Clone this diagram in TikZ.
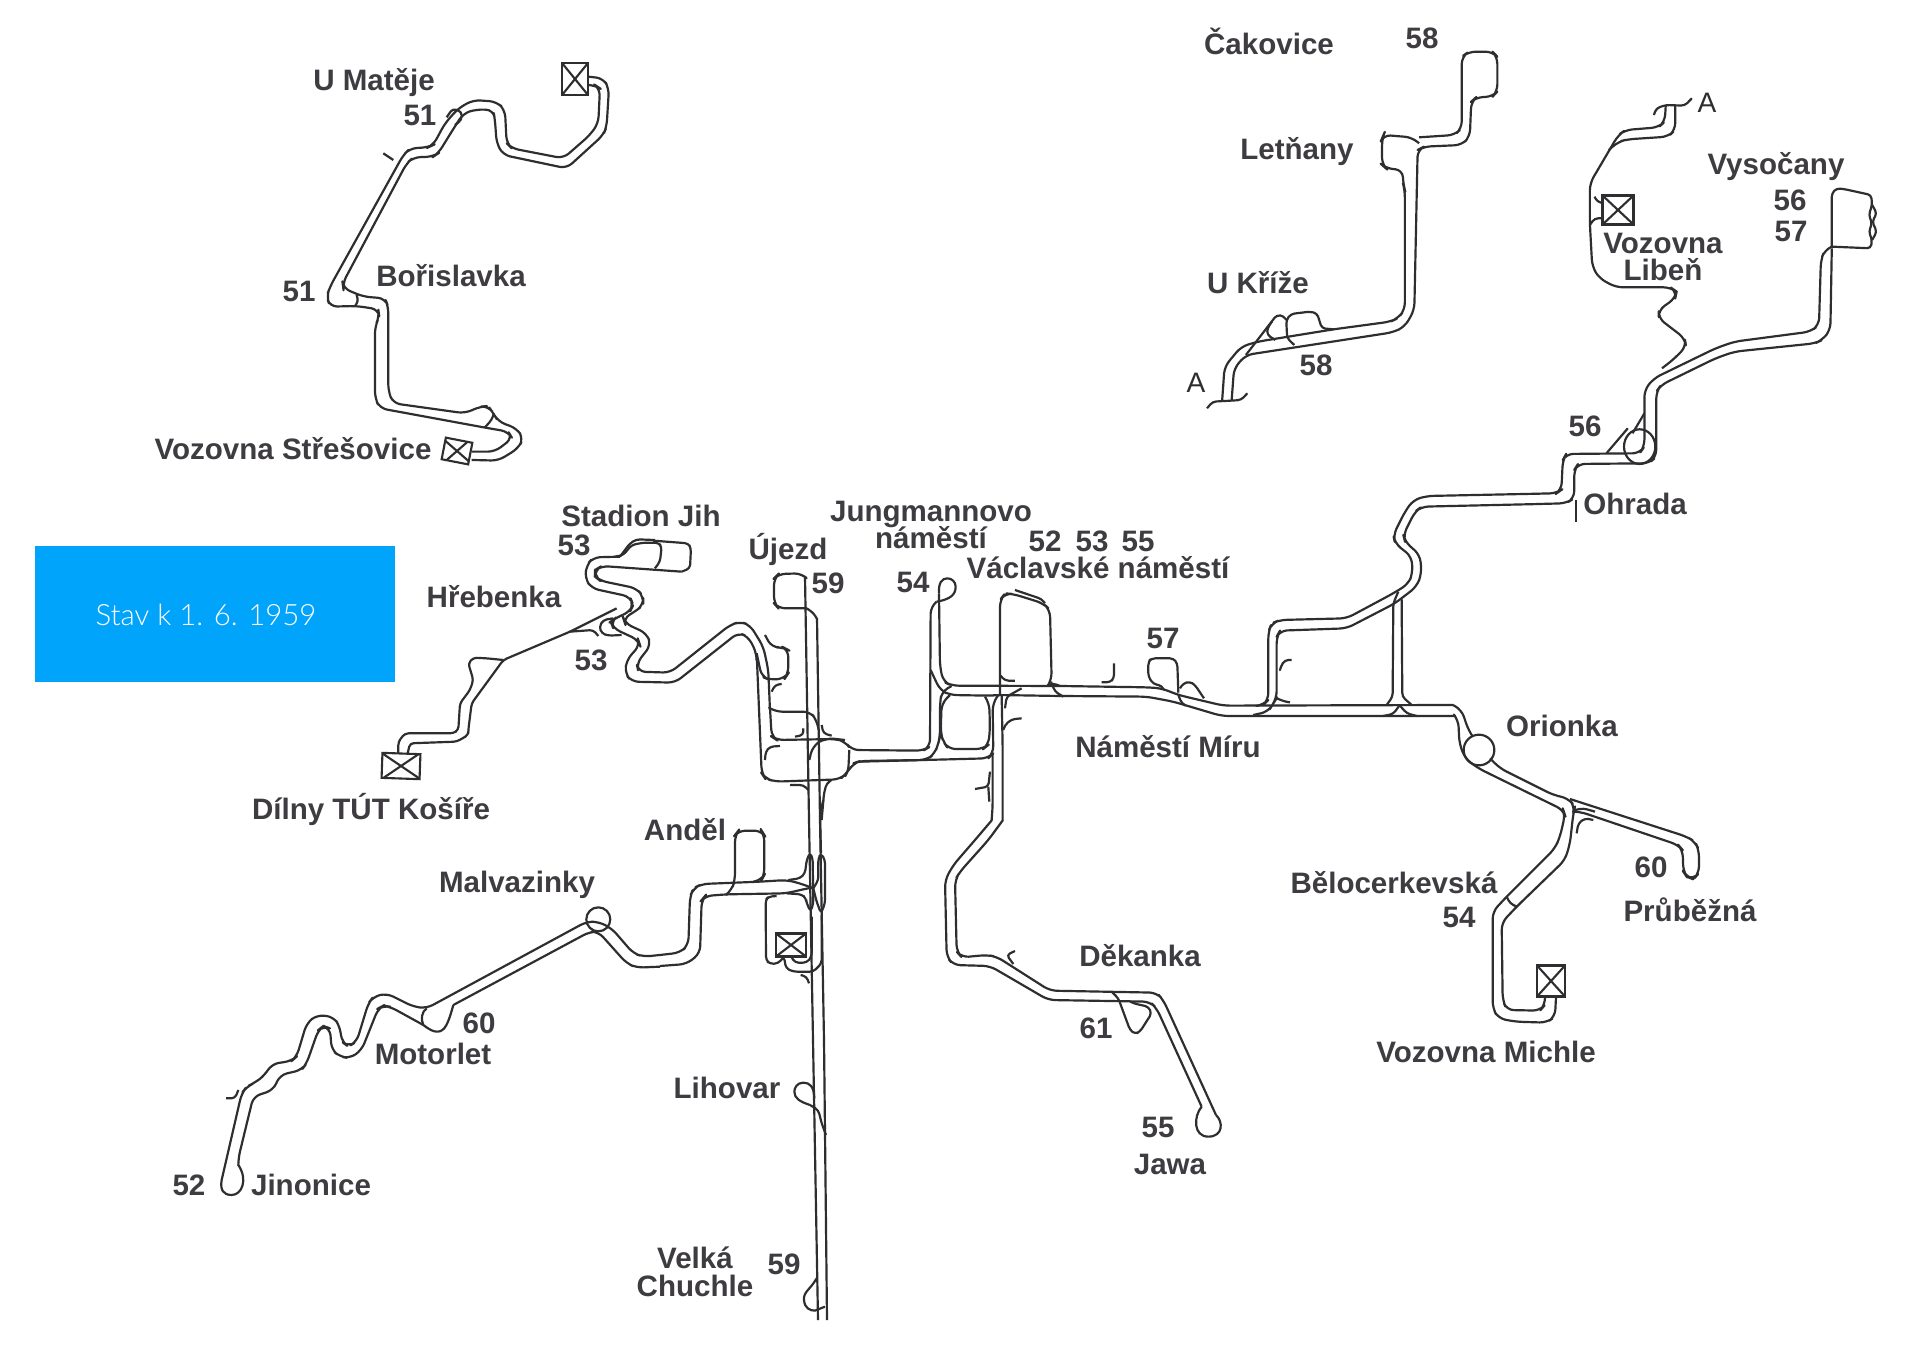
\documentclass[tikz,border=0pt]{standalone}
\usepackage{fontspec}
\setmainfont{Liberation Sans}
\newfontfamily\stavfont{Lato Light}
\usepackage{tikz}
\usetikzlibrary{positioning}
\definecolor{railgray}{RGB}{46,46,48}
\definecolor{labelgray}{RGB}{62,60,64}
\definecolor{stavblue}{RGB}{0,164,250}
\newcommand{\lblfont}{\fontsize{8.4}{7.9}\selectfont\bfseries\lineskiplimit=-3pt\relax}
\tikzset{
  % Crops of the plan, coordinates at three times the size
  crop/.style 2 args={shift={(#1,#2)},scale=0.3333},
  cropwide/.style 2 args={shift={(#1,#2)},xscale=0.4744,yscale=0.3333},
  % Track lines
  railloop/.style={draw=railgray,line width=0.62pt,line join=round},
  rail/.style={railloop,rounded corners=2pt},
  railfine/.style={railloop,rounded corners=1pt},
  % Labels
  lbl/.style={font=\lblfont,text=labelgray,inner sep=0pt,anchor=base,align=center,yshift=-0.01cm},
  lblblock/.style={lbl,anchor=center},
  letterA/.style={font=\fontsize{8}{9}\selectfont,text=railgray,inner sep=0pt,anchor=base},
  % Depot box
  depot/.style 2 args={draw=railgray,line width=0.6pt,inner sep=0pt,
                       minimum width=#1*0.01cm,minimum height=#2*0.01cm,
                       path picture={\draw[railgray,line width=0.6pt]
                         (path picture bounding box.north west) -- (path picture bounding box.south east)
                         (path picture bounding box.south west) -- (path picture bounding box.north east);}},
}
\begin{document}
\begin{tikzpicture}[x=0.01cm,y=-0.01cm]

    \useasboundingbox (0,0) rectangle (1912,1348);
    \fill[white] (0,0) rectangle (1912,1348);

    % ── Date box ───────────────────────────────────────────
    \fill[stavblue] (35,546) rectangle (395,682);
    \node[font=\stavfont\fontsize{8.35}{10}\selectfont,text=white,inner sep=0pt] (stav) at (206,615) {Stav k 1. 6. 1959};

    % ── Line 51 ────────────────────────────────────────────
    \begin{scope}[crop={130}{30}]
      \draw[rail] (1375,165) -- (1395,165) -- (1410,175) -- (1405,280) -- (1380,315) -- (1300,385) -- (1145,355)
        -- (1130,340) -- (1125,240) -- (1100,215) -- (1030,210) -- (985,235) -- (945,280) -- (910,345) -- (895,352)
        -- (840,355) -- (820,375) -- (600,770) -- (590,800) -- (600,830) -- (680,828) -- (745,838) -- (748,860)
        -- (735,890) -- (735,1105) -- (750,1135) -- (1060,1192) -- (1135,1205) -- (1147,1225) -- (1095,1265) -- (1025,1265);
      \draw[rail] (1375,140) -- (1420,145) -- (1437,175) -- (1430,290) -- (1420,315) -- (1310,415) -- (1120,375)
        -- (1100,340) -- (1095,270) -- (1090,240) -- (1040,238) -- (1000,250) -- (965,305) -- (925,370) -- (910,380)
        -- (850,382) -- (830,400) -- (638,760) -- (640,775) -- (700,800) -- (765,805) -- (775,830) -- (775,1085)
        -- (790,1120) -- (1005,1150) -- (1050,1130) -- (1075,1128) -- (1090,1150) -- (1105,1175) -- (1160,1195)
        -- (1180,1225) -- (1165,1255) -- (1105,1292) -- (1025,1290);
      \draw[railfine] (760,370) -- (790,390);
      \draw[railfine] (680,795) -- (685,815) -- (675,828);
      \draw[railfine] (1092,1150) -- (1085,1170) -- (1065,1192);
      \draw[railfine] (950,262) -- (968,236) -- (995,245) -- (995,270) -- (975,285);
    \end{scope}

    % ── Line 58 ────────────────────────────────────────────
    \begin{scope}[cropwide={1170}{10}]
      \draw[rail] (525,382) -- (600,375) -- (615,355) -- (615,140) -- (630,125) -- (680,125) -- (690,140) -- (690,245)
        -- (680,260) -- (645,262) -- (635,275) -- (632,380) -- (615,405) -- (535,410) -- (522,420) -- (515,900)
        -- (495,950) -- (470,967) -- (160,1035) -- (135,1075) -- (130,1170);
      \draw[rail] (525,400) -- (510,382) -- (450,375) -- (447,385) -- (447,465) -- (455,475) -- (490,480) -- (492,525)
        -- (495,540) -- (495,900) -- (480,925) -- (465,935) -- (345,958) -- (185,995) -- (150,1010) -- (115,1070) -- (110,1170);
      \draw[railfine] (345,958) -- (320,955) -- (310,910) -- (295,905) -- (255,912) -- (245,930) -- (247,985) -- (262,1005);
      \draw[railfine] (160,1035) -- (225,915) -- (240,918) -- (245,930);
      \draw[railfine] (215,935) -- (205,955) -- (205,975) -- (222,990);
      \draw[railfine] (78,1195) -- (90,1175) -- (130,1172) -- (150,1170) -- (163,1150);
    % ── Line to Libeň ──────────────────────────────────────
      \draw[railfine] (1020,315) -- (1025,295) -- (1045,285) -- (1085,287) -- (1100,265);
      \draw[rail] (1045,285) -- (1043,335) -- (1030,352) -- (960,360) -- (945,375) -- (885,520) -- (885,640) -- (890,770)
        -- (905,805) -- (940,832) -- (1055,832) -- (1068,845) -- (1065,865) -- (1030,900) -- (1030,925) -- (1085,985)
        -- (1088,1010) -- (1060,1050) -- (1037,1075);
      \draw[rail] (1065,287) -- (1065,360) -- (1050,380) -- (965,388) -- (945,395) -- (925,420);
      \draw[railfine] (895,560) -- (900,575) -- (915,580);
      \draw[railfine] (885,645) -- (895,625) -- (915,625);
    % ── Lines 56 and 57 ────────────────────────────────────
      \draw[railfine] (1395,712) -- (1395,550) -- (1405,535) -- (1420,537) -- (1478,555) -- (1480,585) -- (1473,615)
        -- (1480,640) -- (1473,665) -- (1480,690) -- (1477,715) -- (1395,710);
      \draw[railfine] (1480,585) -- (1490,610) -- (1480,635) -- (1490,665) -- (1480,690);
      \draw[rail] (1395,710) -- (1380,720) -- (1372,750) -- (1368,945) -- (1350,965) -- (1190,995) -- (1150,1015)
        -- (1020,1105) -- (1000,1140) -- (1000,1310) -- (990,1330) -- (835,1332) -- (828,1350) -- (825,1440)
        -- (815,1450) -- (780,1451);
      \draw[rail] (1395,715) -- (1392,960) -- (1375,990) -- (1360,1000) -- (1190,1025) -- (1150,1045) -- (1035,1125)
        -- (1025,1145) -- (1025,1340) -- (1010,1360) -- (860,1362) -- (852,1380) -- (852,1465) -- (835,1480) -- (780,1482);
      \draw[railloop] (990,1310) ellipse [x radius=33,y radius=52];
      \draw[railfine] (965,1255) -- (920,1330);
      \draw[railfine] (1000,1210) -- (975,1270);
      \draw[railfine] (855,1470) -- (855,1535);
    \end{scope}

    % ── Main east-west section ─────────────────────────────
    \begin{scope}[crop={1040}{440}]
      \draw[rail] (1500,161) -- (1160,168) -- (1120,180) -- (1095,215) -- (1060,285) -- (1065,310) -- (1115,350) -- (1118,400)
        -- (1105,432) -- (1060,460) -- (920,535) -- (720,540) -- (695,550) -- (685,575) -- (685,780) -- (670,795) -- (655,797);
      \draw[rail] (1500,192) -- (1145,200) -- (1125,215) -- (1090,285) -- (1095,305) -- (1140,345) -- (1145,400) -- (1130,440)
        -- (1065,490) -- (920,565) -- (720,572) -- (710,590) -- (710,775) -- (700,790) -- (685,815) -- (640,825);
      \draw[rail] (60,738) -- (320,742) -- (365,745) -- (415,765) -- (550,797) -- (1240,795);
      \draw[rail] (60,768) -- (320,770) -- (400,785) -- (545,828) -- (1245,828);
      \draw[railfine] (1075,455) -- (1060,490) -- (1058,770) -- (1040,795);
      \draw[railfine] (1085,475) -- (1087,770) -- (1115,795);
      \draw[railfine] (1078,797) -- (1060,822) -- (1030,828);
      \draw[railfine] (1080,797) -- (1100,820) -- (1130,828);
      \draw[railfine] (710,775) -- (735,785) -- (750,787);
      \draw[railfine] (755,660) -- (735,660) -- (722,680) -- (720,690);
      \draw[railfine] (222,670) -- (222,715) -- (210,727) -- (185,727);
      \draw[railfine] (415,758) -- (412,670) -- (400,655) -- (335,655) -- (325,665) -- (325,710) -- (340,732) -- (365,737) -- (372,750);
      \draw[railfine] (420,745) -- (430,730) -- (450,725) -- (465,735) -- (492,775);
      \draw[railfine] (415,765) -- (425,790) -- (437,797);
      \draw[railfine] (33,725) -- (45,755) -- (70,770);
    \end{scope}

    % ── Orionka, Průběžná and Michle ───────────────────────
    \begin{scope}[crop={1400}{700}]
      \draw[rail] (159,15) -- (185,30) -- (205,90) -- (215,105);
      \draw[rail] (165,48) -- (175,60) -- (178,130) -- (195,175) -- (235,205) -- (490,330) -- (495,345) -- (480,410) -- (465,445)
        -- (320,590) -- (278,635) -- (278,925) -- (295,955) -- (345,965) -- (440,968) -- (465,950) -- (468,893);
      \draw[rail] (270,175) -- (300,205) -- (460,285) -- (505,295) -- (525,320) -- (520,340) -- (510,430) -- (495,480)
        -- (350,620) -- (305,668) -- (308,900) -- (320,930) -- (420,932) -- (435,915) -- (435,893);
      \draw[rail] (510,297) -- (860,410) -- (885,425) -- (897,450) -- (897,520) -- (880,538) -- (860,530) -- (850,515)
        -- (848,450) -- (835,435) -- (540,335) -- (530,335);
      \draw[railloop] (237,150) circle [radius=46];
      \draw[railfine] (530,400) -- (535,370) -- (555,355) -- (580,360);
      \draw[railfine] (525,330) -- (550,325) -- (585,335);
      \draw[railfine] (320,590) -- (330,610) -- (350,620);
    \end{scope}

    % ── Line 54, central loops ─────────────────────────────
    \begin{scope}[crop={720}{560}]
      \draw[rail] (260,145) -- (175,145) -- (162,130) -- (162,55) -- (175,42) -- (245,40) -- (255,50);
      \draw[rail] (260,145) -- (275,150) -- (290,175);
      \draw[rail] (110,280) -- (125,350) -- (150,360) -- (195,355) -- (205,340) -- (205,270) -- (190,262) -- (155,262) -- (135,225);
      \draw[rail] (150,445) -- (165,455) -- (270,455) -- (290,480) -- (296,510);
      \draw[rail] (150,445) -- (155,530) -- (170,540) -- (350,537) -- (375,545) -- (395,570) -- (610,572) -- (630,560) -- (632,140) -- (650,125);
      \draw[railloop] (650,125) .. controls (690,118) and (707,105) .. (707,80) .. controls (707,65) and (695,55) .. (682,55)
        .. controls (665,55) and (655,70) .. (657,100);
      \draw[rail] (657,100) -- (660,320) -- (670,365) -- (695,377) -- (1020,378);
      \draw[rail] (110,280) -- (125,640) -- (135,655) -- (165,665) -- (360,658) -- (380,640) -- (400,610) -- (420,603) -- (620,600) -- (645,580) -- (655,550) -- (660,530) -- (660,430) -- (665,395) -- (695,378);
      \draw[rail] (632,330) -- (660,390) -- (690,405) -- (810,407) -- (835,405) -- (1020,408);
      \draw[railfine] (388,570) -- (385,630) -- (375,650);
      \draw[railfine] (268,600) -- (275,570) -- (295,545) -- (330,535) -- (375,540);
      \draw[rail] (690,405) -- (665,430) -- (662,520) -- (670,545) -- (685,567) -- (790,567) -- (805,555) -- (810,510) -- (808,430) -- (795,410);
      \draw[rail] (420,605) -- (805,595) -- (820,580) -- (818,430) -- (835,405);
      \draw[rail] (840,405) -- (840,120) -- (855,100) -- (880,102) -- (970,130) -- (990,150) -- (995,360) -- (985,375);
      \draw[railfine] (885,90) -- (965,117) -- (975,130);
      \draw[railfine] (840,345) -- (855,362) -- (885,362);
      \draw[railfine] (905,385) -- (860,410) -- (855,445);
      \draw[railfine] (985,375) -- (1000,370) -- (1020,378);
      \draw[rail] (818,580) -- (818,740) -- (815,780);
      \draw[rail] (845,405) -- (848,560) -- (848,780);
      \draw[railfine] (180,558) -- (150,560) -- (137,575) -- (135,600);
      \draw[railfine] (185,372) -- (165,375) -- (155,395);
      \draw[railfine] (250,505) -- (250,525) -- (225,530);
      \draw[railfine] (305,495) -- (310,520) -- (335,527);
      \draw[railfine] (210,675) -- (250,675) -- (265,690);
      \draw[railfine] (335,660) -- (320,670) -- (312,700) -- (305,780);
      \draw[railfine] (905,475) -- (875,478) -- (855,495) -- (850,510);
      \draw[railfine] (810,635) -- (805,680) -- (765,687);
      \draw[railfine] (805,680) -- (808,725);
    \end{scope}

    % ── Trunk to Velká Chuchle ─────────────────────────────
    \draw[rail] (805,577) -- (809,820) -- (813,1040) -- (818,1320);
    \draw[rail] (817,618) -- (820,820) -- (824,1040) -- (827,1320);
    \begin{scope}[crop={640}{1040}]
      \draw[railloop] (523,175) .. controls (522,140) and (510,128) .. (490,128) .. controls (470,128) and (463,145) .. (463,155)
        .. controls (463,175) and (480,185) .. (510,195);
      \draw[railfine] (510,195) -- (535,210) -- (545,250) -- (558,285);
      \draw[railloop] (530,715) .. controls (510,750) and (490,755) .. (492,780) .. controls (494,805) and (510,812) .. (525,812) -- (555,800);
    \end{scope}

    % ── West: Stadion Jih, Hřebenka, Košíře ────────────────
    \begin{scope}[crop={360}{490}]
      \draw[rail] (780,200) -- (700,202) -- (680,225) -- (675,265) -- (695,295) -- (810,320) -- (820,345) -- (810,365) -- (765,385)
        -- (752,395) -- (760,415) -- (835,450) -- (840,465) -- (800,510) -- (795,550) -- (815,575) -- (945,578) -- (1135,428)
        -- (1165,440) -- (1190,490) -- (1190,500);
      \draw[rail] (965,245) -- (725,228) -- (705,240) -- (705,260) -- (720,272) -- (830,295) -- (850,320) -- (850,345) -- (825,365)
        -- (790,385) -- (795,400) -- (860,430) -- (873,465) -- (830,520) -- (835,545) -- (930,548) -- (1110,405) -- (1140,395)
        -- (1170,405) -- (1210,470) -- (1225,540) -- (1230,660);
      \draw[railfine] (880,152) -- (985,160) -- (993,175) -- (990,235) -- (965,245);
      \draw[railfine] (765,200) -- (790,195) -- (815,165) -- (850,158) -- (895,158) -- (905,170) -- (900,215) -- (885,235);
      \draw[railfine] (780,200) -- (810,160) -- (830,148) -- (885,150);
      \draw[railfine] (760,385) -- (730,390) -- (718,410) -- (725,430) -- (745,437) -- (785,435);
      \draw[railfine] (630,425) -- (700,420) -- (715,438);
      \draw[railfine] (770,355) -- (630,425) -- (430,510) -- (335,640) -- (325,720) -- (325,735) -- (290,755) -- (150,760) -- (143,790);
      \draw[railfine] (430,510) -- (380,505) -- (340,503) -- (325,520) -- (340,570) -- (330,600) -- (300,640) -- (295,720) -- (280,730) -- (135,730) -- (115,755) -- (115,790);
    \end{scope}

    % ── Anděl, junction and depot track ────────────────────
    \begin{scope}[crop={660}{800}]
      \draw[rail] (0,465) -- (60,458) -- (85,435) -- (90,290) -- (100,265) -- (125,252) -- (300,245) -- (380,240) -- (420,250) -- (460,265);
      \draw[rail] (0,498) -- (80,492) -- (120,460) -- (125,300) -- (135,288) -- (200,283) -- (380,280) -- (420,270) -- (460,262);
      \draw[rail] (280,245) -- (305,240) -- (313,225) -- (313,105) -- (305,92) -- (235,92) -- (225,105) -- (225,240) -- (215,270) -- (200,283);
      \draw[railfine] (385,240) -- (420,235) -- (435,220) -- (440,180) -- (450,158) -- (458,175) -- (460,310) -- (452,335) -- (440,310) -- (438,295) -- (425,283) -- (380,280);
      \draw[railfine] (460,265) -- (475,240) -- (475,175) -- (483,160) -- (495,180) -- (495,310) -- (483,340) -- (470,305) -- (460,265);
      \draw[railfine] (483,160) -- (480,40) -- (490,0);
      \draw[railfine] (350,288) -- (325,290) -- (317,300) -- (318,480) -- (330,492) -- (355,490) -- (372,470) -- (378,505) -- (400,515) -- (460,515) -- (485,490) -- (485,345);
      \draw[railfine] (395,472) -- (405,488) -- (440,488) -- (455,470) -- (455,350);
      \draw[railfine] (422,525) -- (440,530) -- (447,550);
    \end{scope}

    % ── Malvazinky, Motorlet, Jinonice ─────────────────────
    \begin{scope}[crop={200}{860}]
      \draw[rail] (1380,285) -- (1330,290) -- (1300,280) -- (1235,205) -- (1195,185) -- (1160,185) -- (680,445) -- (640,440) -- (560,400)
        -- (520,410) -- (505,430) -- (470,545) -- (445,560) -- (425,545) -- (420,500) -- (400,470) -- (350,465) -- (320,490) -- (290,590)
        -- (275,603) -- (215,612) -- (195,645) -- (165,668) -- (140,680) -- (125,700) -- (65,960);
      \draw[railloop] (65,960) .. controls (60,990) and (70,1005) .. (95,1005) .. controls (125,1005) and (145,960) .. (115,915);
      \draw[rail] (115,915) -- (115,895) -- (160,710) -- (220,690) -- (240,645) -- (305,630) -- (320,610) -- (355,510) -- (370,498)
        -- (390,505) -- (395,570) -- (420,590) -- (450,595) -- (485,570) -- (535,445) -- (550,437) -- (570,440) -- (670,495);
      \draw[railloop] (670,495) .. controls (690,510) and (700,515) .. (712,515) .. controls (735,515) and (745,490) .. (760,435);
      \draw[rail] (760,435) -- (1170,215) -- (1195,215) -- (1280,310) -- (1310,323) -- (1380,320);
      \draw[railloop] (670,495) .. controls (662,478) and (665,455) .. (680,445);
      \draw[railloop] (1195,178) circle [radius=36];
      \draw[railfine] (78,715) -- (105,715) -- (115,690);
    \end{scope}

    % ── Line 55 to Jawa ────────────────────────────────────
    \begin{scope}[crop={930}{840}]
      \draw[rail] (186,-60) -- (135,0) -- (70,75) -- (45,120) -- (50,350) -- (70,375) -- (180,378) -- (355,480) -- (660,485) -- (680,505) -- (815,800);
      \draw[railloop] (815,800) .. controls (790,830) and (790,890) .. (835,890) .. controls (880,890) and (880,845) .. (858,825);
      \draw[rail] (858,825) -- (700,480) -- (680,458) -- (360,452) -- (200,350)
        -- (170,345) -- (95,352) -- (80,335) -- (75,120) -- (90,95) -- (175,0) -- (219,-60);
      \draw[railfine] (545,455) -- (565,475) -- (600,570) -- (615,582) -- (630,575) -- (665,520) -- (655,500) -- (610,490) -- (605,487);
      \draw[railfine] (255,333) -- (230,345) -- (250,372);
    \end{scope}

    % ── Depots ─────────────────────────────────────────────
    \node[depot={26}{32}] (depotMatej) at (575,79) {};
    \node[depot={27}{22},rotate=-11,fill=white] (depotStresovice) at (457,451) {};
    \node[depot={38}{25},rotate=-2,fill=white] (depotKosire) at (401,766) {};
    \node[depot={31}{29},fill=white] (depotLiben) at (1618,210) {};
    \node[depot={30}{23},fill=white] (depotAndel) at (791,945) {};
    \node[depot={28}{31},fill=white] (depotMichle) at (1551,981) {};

    % ── Labels ─────────────────────────────────────────────
    \node[lbl] (uMateje) at (374,89) {U Matěje};
    \node[lbl] (num51a) at (420,124) {51};
    \node[lbl] (borislavka) at (451,285) {Bořislavka};
    \node[lbl] (num51b) at (299,300) {51};
    \node[lbl] (stresovice) at (293,458) {Vozovna Střešovice};
    \node[lbl] (cakovice) at (1269,53) {Čakovice};
    \node[lbl] (num58a) at (1422,47) {58};
    \node[lbl] (letnany) at (1297,158) {Letňany};
    \node[lbl] (uKrize) at (1258,292) {U Kříže};
    \node[lbl] (num58b) at (1316,374) {58};
    \node[letterA] (letterAa) at (1196,392) {A};
    \node[letterA] (letterAb) at (1707,112) {A};
    \node[lbl] (vysocany) at (1776,173) {Vysočany};
    \node[lbl] (num56a) at (1790,209) {56};
    \node[lbl] (num57a) at (1791,240) {57};
    \node[lblblock] (liben) at (1663,256) {Vozovna\\Libeň};
    \node[lbl] (num56b) at (1585,435) {56};
    \node[lbl] (ohrada) at (1635,513) {Ohrada};
    \node[lbl] (stadionJih) at (641,525) {Stadion Jih};
    \node[lbl] (num53a) at (574,554) {53};
    \node[lbl] (hrebenka) at (494,606) {Hřebenka};
    \node[lbl] (num53b) at (591,669) {53};
    \node[lbl] (ujezd) at (788,558) {Újezd};
    \node[lbl] (num59a) at (828,592) {59};
    \node[lbl] (num54a) at (913,591) {54};
    \node[lblblock] (jungmann) at (931,524) {Jungmannovo\\náměstí};
    \node[lbl] (num52) at (1045,550) {52};
    \node[lbl] (num53c) at (1092,550) {53};
    \node[lbl] (num55a) at (1138,550) {55};
    \node[lbl] (vaclavske) at (1098,577) {Václavské náměstí};
    \node[lbl] (num57b) at (1163,647) {57};
    \node[lbl] (miru) at (1168,756) {Náměstí Míru};
    \node[lbl] (orionka) at (1562,735) {Orionka};
    \node[lbl] (num60a) at (1651,876) {60};
    \node[lbl] (prubezna) at (1690,920) {Průběžná};
    \node[lbl] (belocerkevska) at (1394,892) {Bělocerkevská};
    \node[lbl] (num54b) at (1459,926) {54};
    \node[lbl] (michle) at (1486,1061) {Vozovna Michle};
    \node[lbl] (kosire) at (371,818) {Dílny TÚT Košíře};
    \node[lbl] (andel) at (685,839) {Anděl};
    \node[lbl] (malvazinky) at (517,891) {Malvazinky};
    \node[lbl] (num60b) at (479,1032) {60};
    \node[lbl] (motorlet) at (433,1063) {Motorlet};
    \node[lbl] (jinonice) at (311,1194) {Jinonice};
    \node[lbl] (num52b) at (189,1194) {52};
    \node[lbl] (lihovar) at (727,1097) {Lihovar};
    \node[lblblock] (chuchle) at (695,1271) {Velká\\Chuchle};
    \node[lbl] (num59b) at (784,1273) {59};
    \node[lbl] (dekanka) at (1140,965) {Děkanka};
    \node[lbl] (num61) at (1096,1037) {61};
    \node[lbl] (num55b) at (1158,1136) {55};
    \node[lbl] (jawa) at (1170,1173) {Jawa};

  \end{tikzpicture}
\end{document}
